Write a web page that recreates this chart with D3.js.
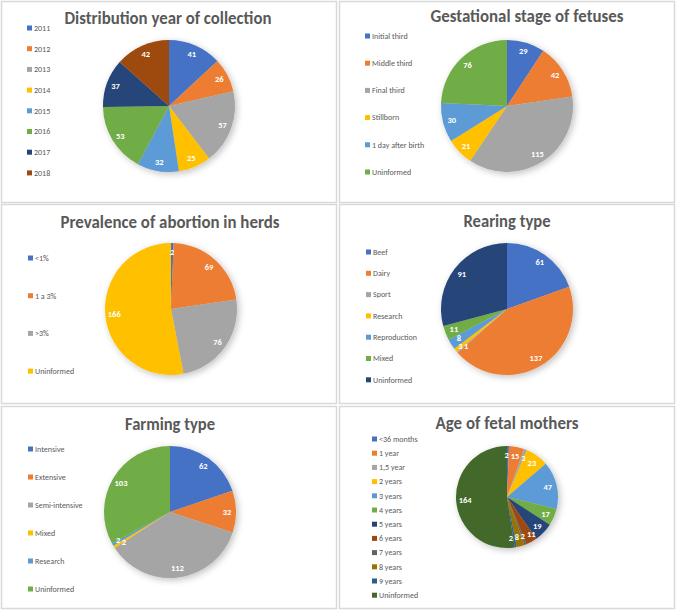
<!DOCTYPE html>
<html>
<head>
<meta charset="utf-8">
<script src="https://cdn.jsdelivr.net/npm/d3@7"></script>
<style>
  html, body { margin: 0; padding: 0; background: #fff; }
  svg { display: block; font-family: Carlito, Lato, "Liberation Sans", sans-serif; }
</style>
</head>
<body>
<svg id="chart" width="676" height="610"></svg>
<script>
// ---------- DATA ----------
const yearCats = ["2011", "2012", "2013", "2014", "2015", "2016", "2017", "2018"];
const yearVals = [41, 26, 57, 25, 32, 53, 37, 42];

const stageCats = ["Initial third", "Middle third", "Final third", "Stillborn", "1 day after birth", "Uninformed"];
const stageVals = [29, 42, 115, 21, 30, 76];

const prevCats = ["<1%", "1 a 3%", ">3%", "Uninformed"];
const prevVals = [2, 69, 76, 166];

const rearCats = ["Beef", "Dairy", "Sport", "Research", "Reproduction", "Mixed", "Uninformed"];
const rearVals = [61, 137, 1, 3, 8, 11, 91];

const farmCats = ["Intensive", "Extensive", "Semi-intensive", "Mixed", "Research", "Uninformed"];
const farmVals = [62, 32, 112, 2, 2, 103];

const ageCats = ["<36 months", "1 year", "1,5 year", "2 years", "3 years", "4 years", "5 years", "6 years", "7 years", "8 years", "9 years", "Uninformed"];
const ageVals = [2, 15, 3, 23, 47, 17, 19, 11, 2, 8, 2, 164];

const titles = ["Distribution year of collection", "Gestational stage of fetuses", "Prevalence of abortion in herds",
                "Rearing type", "Farming type", "Age of fetal mothers"];

// ---------- STYLE / LAYOUT ----------
const palette = ["#4472C4", "#ED7D31", "#A5A5A5", "#FFC000", "#5B9BD5", "#70AD47",
                 "#264478", "#9E480E", "#636363", "#997300", "#255E91", "#43682B"];

const panels = [
  { cats: yearCats,  vals: yearVals,  box: [1, 1, 336, 202],   c: [169, 106], r: 66, tx: 168, ty: 24,  tw: 207, lx: 27,  ly: 28,  ls: 20.7 },
  { cats: stageCats, vals: stageVals, box: [339, 1, 336, 202], c: [507, 106], r: 66, tx: 527, ty: 22,  tw: 193, lx: 365, ly: 36,  ls: 27.2 },
  { cats: prevCats,  vals: prevVals,  box: [1, 204, 336, 200], c: [171, 309], r: 66, tx: 170, ty: 228, tw: 219, lx: 28,  ly: 258, ls: 37.7 },
  { cats: rearCats,  vals: rearVals,  box: [339, 204, 336, 200], c: [507, 309], r: 66, tx: 507, ty: 227, tw: 87, lx: 366, ly: 252, ls: 21.3 },
  { cats: farmCats,  vals: farmVals,  box: [1, 406, 336, 203], c: [170, 512], r: 66, tx: 170, ty: 430, tw: 90,  lx: 28,  ly: 449, ls: 28 },
  { cats: ageCats,   vals: ageVals,   box: [339, 406, 336, 203], c: [507, 497], r: 51, tx: 507, ty: 429, tw: 143, lx: 372, ly: 439, ls: 14.2 }
];

const svg = d3.select("#chart");

// soft shadow like Excel
const defs = svg.append("defs");
const f = defs.append("filter").attr("id", "shadow").attr("x", "-30%").attr("y", "-30%").attr("width", "160%").attr("height", "160%");
f.append("feGaussianBlur").attr("in", "SourceAlpha").attr("stdDeviation", 3.5);
f.append("feOffset").attr("dx", 2).attr("dy", 2).attr("result", "ob");
f.append("feComponentTransfer").append("feFuncA").attr("type", "linear").attr("slope", 0.25);
const fm = f.append("feMerge");
fm.append("feMergeNode");
fm.append("feMergeNode").attr("in", "SourceGraphic");

panels.forEach((p, i) => {
  const g = svg.append("g");
  // panel border
  g.append("rect")
    .attr("x", p.box[0] + 0.5).attr("y", p.box[1] + 0.5)
    .attr("width", p.box[2] - 1).attr("height", p.box[3] - 1)
    .attr("fill", "#fff").attr("stroke", "#d9d9d9").attr("stroke-width", 1.5);

  // title
  g.append("text")
    .attr("x", p.tx).attr("y", p.ty)
    .attr("text-anchor", "middle")
    .attr("font-size", 17).attr("font-weight", "bold")
    .attr("fill", "#595959")
    .attr("textLength", p.tw).attr("lengthAdjust", "spacingAndGlyphs")
    .text(titles[i]);

  const color = d3.scaleOrdinal().domain(p.cats).range(palette);

  // legend
  const leg = g.append("g");
  p.cats.forEach((c, k) => {
    const y = p.ly + k * p.ls;
    leg.append("rect").attr("x", p.lx).attr("y", y - 2.5).attr("width", 5).attr("height", 5).attr("fill", color(c));
    leg.append("text").attr("x", p.lx + 7).attr("y", y + 2.8)
      .attr("font-size", 8).attr("fill", "#595959").text(c);
  });

  // pie
  const data = p.cats.map((c, k) => ({ cat: c, val: p.vals[k] }));
  const pie = d3.pie().sort(null).value(d => d.val);
  const arcs = pie(data);
  const arc = d3.arc().innerRadius(0).outerRadius(p.r);
  const labelArc = d3.arc().innerRadius(p.r - 9).outerRadius(p.r - 9);

  const pg = g.append("g").attr("transform", `translate(${p.c[0]},${p.c[1]})`);
  pg.append("g").attr("filter", "url(#shadow)")
    .selectAll("path").data(arcs).join("path")
    .attr("d", arc)
    .attr("fill", d => color(d.data.cat));

  // label positions with a simple collision nudge (small slices)
  const fs = 8.5;
  const pos = arcs.map(d => {
    const [x, y] = labelArc.centroid(d);
    const w = String(d.data.val).length * fs * 0.6;
    return { x, y, w, h: fs * 0.9, d };
  });
  for (let it = 0; it < 60; it++) {
    let moved = false;
    for (let a = 0; a < pos.length; a++) {
      for (let b = a + 1; b < pos.length; b++) {
        const A = pos[a], B = pos[b];
        const ox = (A.w + B.w) / 2 + 0.8 - Math.abs(A.x - B.x);
        const oy = (A.h + B.h) / 2 + 0.8 - Math.abs(A.y - B.y);
        if (ox > 0 && oy > 0) {
          moved = true;
          if (ox < oy) {
            const s = (B.x >= A.x ? 1 : -1) * ox / 2;
            A.x -= s; B.x += s;
          } else {
            const s = (B.y >= A.y ? 1 : -1) * oy / 2;
            A.y -= s; B.y += s;
          }
        }
      }
    }
    if (!moved) break;
  }

  pg.selectAll("text.lbl").data(pos).join("text")
    .attr("class", "lbl")
    .attr("x", q => q.x).attr("y", q => q.y)
    .attr("text-anchor", "middle")
    .attr("dy", "0.35em")
    .attr("font-size", fs).attr("font-weight", "bold")
    .attr("fill", "#fff")
    .text(q => q.d.data.val);
});
</script>
</body>
</html>
